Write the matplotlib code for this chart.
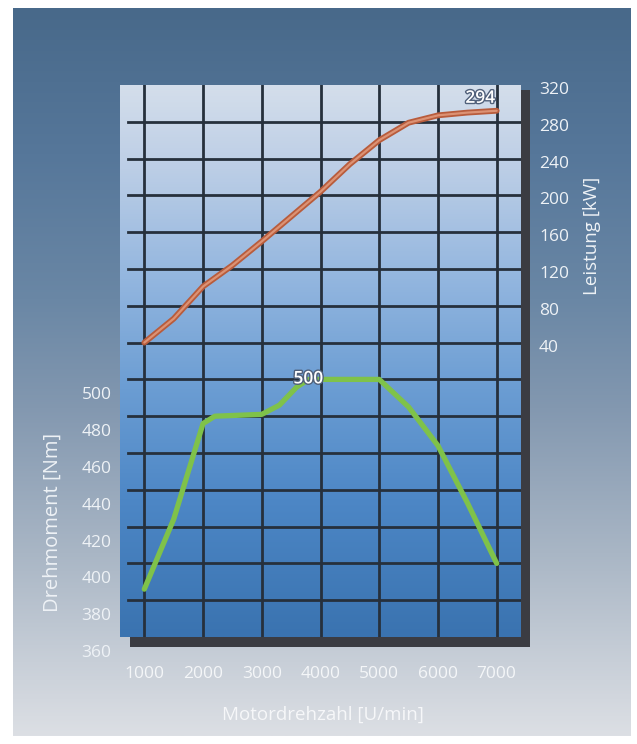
import numpy as np
import matplotlib
matplotlib.use("Agg")
import matplotlib.pyplot as plt
from matplotlib.colors import LinearSegmentedColormap
from matplotlib.patches import Rectangle
from matplotlib.transforms import ScaledTranslation
import matplotlib.patheffects as pe

plt.rcParams['font.family'] = ['Open Sans', 'DejaVu Sans']

# ---- data ----
rpm_power = [1000, 1500, 2000, 2500, 3000, 3500, 4000, 4500, 5000, 5500, 6000, 6500, 7000]
power_kw = [40, 66, 101, 124, 150, 177, 204, 234, 260, 279, 287, 290, 292]

rpm_torque = [1000, 1500, 2000, 2200, 3000, 3300, 3600, 3800, 5000, 5500, 6000, 6500, 7000]
torque_nm = [386, 424, 476, 480, 481, 486, 496, 500, 500, 485, 464, 433, 400]

x_ticks = [1000, 2000, 3000, 4000, 5000, 6000, 7000]
nm_ticks = [360, 380, 400, 420, 440, 460, 480, 500]
kw_ticks = [40, 80, 120, 160, 200, 240, 280, 320]
peak_power_label = "294"
peak_torque_label = "500"

W, H = 637, 744
fig = plt.figure(figsize=(W / 100, H / 100), dpi=100)
fig.patch.set_facecolor('white')

def fx(px):
    return px / W

def fy(py):
    return 1 - py / H

# ---- outer gradient background ----
bg = fig.add_axes([fx(13), fy(736), fx(631) - fx(13), fy(8) - fy(736)])
bg_cmap = LinearSegmentedColormap.from_list('bg', [
    (0.0, '#48698a'), (0.2, '#56779a'), (0.4, '#6a87a5'), (0.55, '#8398b0'),
    (0.75, '#a9b6c5'), (0.9, '#c8cfd8'), (1.0, '#dcdfe4')])
bg.imshow(np.linspace(0, 1, 256).reshape(-1, 1), cmap=bg_cmap, aspect='auto',
          extent=[0, 1, 0, 1], origin='upper')
bg.set_axis_off()

# ---- shadow ----
fig.patches.append(Rectangle((fx(130), fy(647)), fx(530) - fx(130), fy(90) - fy(647),
                             transform=fig.transFigure, facecolor='#3b3c42',
                             edgecolor='none', zorder=1))

# ---- main panel ----
ax = fig.add_axes([fx(120), fy(637), fx(521) - fx(120), fy(85) - fy(637)])
ax.set_zorder(2)
panel_cmap = LinearSegmentedColormap.from_list('panel', [
    (0.0, '#d4deeb'), (0.15, '#bccee6'), (0.35, '#93b6df'), (0.55, '#6b9dd3'),
    (0.75, '#4d87c6'), (1.0, '#3a73b0')])
ax.imshow(np.linspace(0, 1, 256).reshape(-1, 1), cmap=panel_cmap, aspect='auto',
          extent=[0, 1, 0, 1], origin='upper', transform=ax.transAxes, zorder=0)

ax.set_xlim(586, 7414)
ax.set_ylim(360, 660)

grid_color = '#26303c'
for xv in x_ticks:
    ax.axvline(xv, color=grid_color, lw=2.0, zorder=1)
for yv in np.arange(380, 660, 20):
    ax.axhline(yv, xmin=0.02, xmax=1, color=grid_color, lw=2.0, zorder=1)

for s in ax.spines.values():
    s.set_visible(False)

label_color = '#eef2f6'
ax.set_xticks(x_ticks)
ax.set_xticklabels([str(v) for v in x_ticks])
ax.set_yticks(nm_ticks)
ax.set_yticklabels([str(v) for v in nm_ticks])
ax.tick_params(axis='both', length=0, colors=label_color, labelsize=12.5)
ax.tick_params(axis='x', pad=21)
ax.tick_params(axis='y', pad=6)
off = ScaledTranslation(0, -0.14, fig.dpi_scale_trans)
for lab in ax.get_yticklabels():
    lab.set_transform(lab.get_transform() + off)
    lab.set_fontweight('medium')
for lab in ax.get_xticklabels():
    lab.set_fontweight('medium')
    lab.set_color('#f4f6f8')

# torque line
ax.plot(rpm_torque, torque_nm, color='#7fc24a', lw=3.8, solid_capstyle='round',
        solid_joinstyle='round', zorder=3)
ax.text(3792, 500, peak_torque_label, color='white', fontsize=12.5, fontweight='semibold',
        ha='center', va='center', zorder=4,
        path_effects=[pe.withStroke(linewidth=2, foreground='#50607a')])

# ---- power axis ----
ax2 = ax.twinx()
ax2.set_ylim(-280, 320)
ax2.patch.set_visible(False)
for s in ax2.spines.values():
    s.set_visible(False)
ax2.set_yticks(kw_ticks)
ax2.set_yticklabels([str(v) for v in kw_ticks])
ax2.tick_params(axis='y', length=0, colors=label_color, labelsize=12.5, pad=13)
off2 = ScaledTranslation(0, -0.03, fig.dpi_scale_trans)
for lab in ax2.get_yticklabels():
    lab.set_transform(lab.get_transform() + off2)
    lab.set_fontweight('medium')

ax2.plot(rpm_power, power_kw, color='#b85c3c', lw=4.2, solid_capstyle='round',
         solid_joinstyle='round', zorder=3)
ax2.plot(rpm_power, power_kw, color='#dc9274', lw=1.6, solid_capstyle='round',
         solid_joinstyle='round', zorder=3)
ax2.text(6719, 305, peak_power_label, color='white', fontsize=12.5, fontweight='semibold',
         ha='center', va='center', zorder=4,
         path_effects=[pe.withStroke(linewidth=2, foreground='#50607a')])

# ---- axis titles ----
fig.text(fx(592), fy(236), 'Leistung [kW]', rotation=90, color=label_color,
         fontsize=13.5, ha='center', va='center')
fig.text(fx(53), fy(522), 'Drehmoment [Nm]', rotation=90, color=label_color,
         fontsize=14.5, ha='center', va='center')
fig.text(fx(323), fy(715), 'Motordrehzahl [U/min]', color='#f6f7f9',
         fontsize=13.5, ha='center', va='center')

fig.savefig('out.png', dpi=100, facecolor=fig.get_facecolor())
